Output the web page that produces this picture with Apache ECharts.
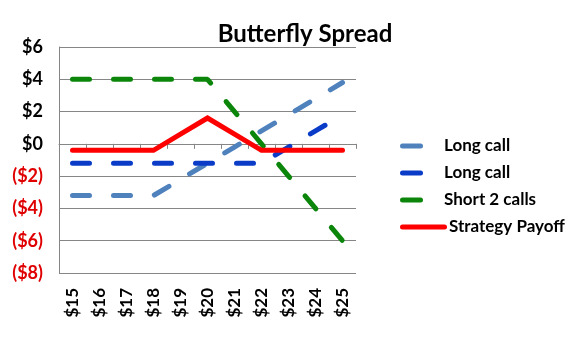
<!DOCTYPE html>
<html><head><meta charset="utf-8">
<script src="https://cdn.jsdelivr.net/npm/echarts@6/dist/echarts.min.js"></script>
<style>html,body{margin:0;padding:0;background:#fff}#c{width:586px;height:349px}</style>
</head><body><div id="c"></div>
<script>
const categories = ['$15','$16','$17','$18','$19','$20','$21','$22','$23','$24','$25'];
const longCall1 = [-3.2,-3.2,-3.2,-3.2,-2.2,-1.2,-0.2,0.8,1.8,2.8,3.8];
const longCall2 = [-1.2,-1.2,-1.2,-1.2,-1.2,-1.2,-1.2,-1.2,-0.2,0.8,1.8];
const short2 = [4,4,4,4,4,4,2,0,-2,-4,-6];
const payoff = [-0.4,-0.4,-0.4,-0.4,0.6,1.6,0.6,-0.4,-0.4,-0.4,-0.4];
const seriesNames = ['Long call','Long call ','Short 2 calls','Strategy Payoff'];
const yTicks = {min:-8, max:6, interval:2};

const FONT = 'Lato, "Open Sans", sans-serif';
const chart = echarts.init(document.getElementById('c'));
function dashed(name, data, color, z){
  return {name, type:'line', data, symbol:'none', showSymbol:false, xAxisIndex:0, z,
    lineStyle:{color, width:5, type:[17,24], cap:'round'}, itemStyle:{color}};
}
const legendText = {fontFamily:FONT, fontSize:17, fontWeight:'bold', color:'#000', lineHeight:18};
const ICON = 'path://M2.5,0 L20.5,0 A2.5,2.5 0 0 1 20.5,5 L2.5,5 A2.5,2.5 0 0 1 2.5,0 Z';
const ICON2 = 'path://M2.5,0 L44.5,0 A2.5,2.5 0 0 1 44.5,5 L2.5,5 A2.5,2.5 0 0 1 2.5,0 Z';
chart.setOption({
  animation:false,
  title:{text:'Butterfly Spread', left:300, top:17, textAlign:'center',
    textStyle:{fontFamily:FONT, fontWeight:'bold', fontSize:24, color:'#000'}},
  grid:{left:59, right:230, top:47, bottom:76},
  legend:[{
    data:seriesNames.slice(0,3).map(n => ({name:n, icon:ICON})), orient:'vertical', left:395, top:132, itemGap:9,
    itemWidth:23, itemHeight:5,
    textStyle:Object.assign({padding:[0,0,0,16]}, legendText),
    formatter: n => n.trim()
  },{
    data:[{name:seriesNames[3], icon:ICON2}], orient:'vertical', left:395, top:213,
    itemWidth:47, itemHeight:5,
    textStyle:Object.assign({padding:[0,0,0,-3]}, legendText)
  }],
  xAxis:[{
    type:'category', data:categories, position:'bottom', boundaryGap:true,
    axisLine:{show:false, onZero:false}, axisTick:{show:false},
    axisLabel:{rotate:90, margin:15, fontFamily:FONT, fontWeight:'bold', fontSize:17, color:'#000'}
  },{
    type:'category', data:categories, position:'bottom', boundaryGap:true,
    axisLine:{show:true, onZero:true, lineStyle:{color:'#868686', width:1}},
    axisTick:{show:true, length:5, lineStyle:{color:'#868686'}},
    axisLabel:{show:false}
  }],
  yAxis:{type:'value', min:yTicks.min, max:yTicks.max, interval:yTicks.interval,
    axisLine:{show:true, lineStyle:{color:'#868686'}}, axisTick:{show:false},
    splitLine:{lineStyle:{color:'#868686', width:1}},
    axisLabel:{margin:16, fontFamily:FONT, fontWeight:'bold', fontSize:18, color:'#000',
      formatter: v => v < 0 ? '{r|($' + (-v) + ')}' : '$' + v,
      rich:{r:{color:'#E00000', fontFamily:FONT, fontWeight:'bold', fontSize:18}}}
  },
  series:[
    dashed(seriesNames[0], longCall1, '#4F81BD', 2),
    dashed(seriesNames[1], longCall2, '#0A3CC8', 3),
    dashed(seriesNames[2], short2, '#0B860B', 4),
    {name:seriesNames[3], type:'line', data:payoff, symbol:'none', showSymbol:false, z:5,
     lineStyle:{color:'#FF0000', width:5, cap:'round', join:'miter'}, itemStyle:{color:'#FF0000'}}
  ]
});
</script></body></html>
